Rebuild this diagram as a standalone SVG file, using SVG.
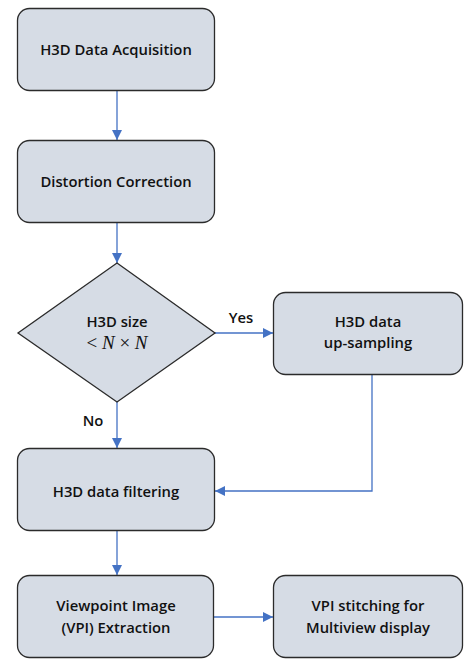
<svg xmlns="http://www.w3.org/2000/svg" width="464" height="659" viewBox="0 0 464 659">
<style>
.box{fill:#D6DCE5;stroke:#2b2b2b;stroke-width:1.3}
.t{font-family:"Open Sans","DejaVu Sans",sans-serif;font-weight:600;font-size:14.8px;fill:#111;text-anchor:middle}
.m{font-family:"Liberation Serif","DejaVu Serif",serif;font-size:19px;fill:#111;text-anchor:middle}
.c{fill:none;stroke:#4472C4;stroke-width:1.3}
</style>
<defs>
<marker id="ah" viewBox="0 0 10 10" refX="10" refY="5" markerWidth="10" markerHeight="10" markerUnits="userSpaceOnUse" orient="auto">
<path d="M0,0 L10,5 L0,10 Z" fill="#4472C4"/>
</marker>
</defs>
<g id="connectors">
<line class="c" x1="117" y1="91" x2="117" y2="140" marker-end="url(#ah)"/>
<line class="c" x1="117" y1="223" x2="117" y2="263" marker-end="url(#ah)"/>
<line class="c" x1="215" y1="333" x2="273" y2="333" marker-end="url(#ah)"/>
<line class="c" x1="117" y1="402" x2="117" y2="448" marker-end="url(#ah)"/>
<polyline class="c" points="372,374 372,491 215,491" marker-end="url(#ah)"/>
<line class="c" x1="117" y1="531" x2="117" y2="575" marker-end="url(#ah)"/>
<line class="c" x1="214" y1="617" x2="273" y2="617" marker-end="url(#ah)"/>
<text class="t" x="241" y="323">Yes</text>
<text class="t" x="93" y="426">No</text>
</g>
<g id="acquisition">
<rect class="box" x="17.5" y="8.5" width="197" height="82" rx="12"/>
<text class="t" x="116" y="55">H3D Data Acquisition</text>
</g>
<g id="distortion">
<rect class="box" x="17.5" y="140.5" width="197" height="82" rx="12"/>
<text class="t" x="116" y="187">Distortion Correction</text>
</g>
<g id="decision">
<polygon class="box" points="117,263 215,333 117,402 18,333"/>
<text class="t" x="117" y="327">H3D size</text>
<text class="m" x="117" y="349">&lt; <tspan font-style="italic">N</tspan> × <tspan font-style="italic">N</tspan></text>
</g>
<g id="upsampling">
<rect class="box" x="273.5" y="292.5" width="189" height="82" rx="12"/>
<text class="t" x="368" y="327">H3D data</text>
<text class="t" x="368" y="348">up-sampling</text>
</g>
<g id="filtering">
<rect class="box" x="17.5" y="448.5" width="197" height="82" rx="12"/>
<text class="t" x="116" y="497">H3D data filtering</text>
</g>
<g id="extraction">
<rect class="box" x="17.5" y="575.5" width="196" height="82" rx="12"/>
<text class="t" x="116" y="611">Viewpoint Image</text>
<text class="t" x="116" y="633">(VPI) Extraction</text>
</g>
<g id="stitching">
<rect class="box" x="273.5" y="575.5" width="189" height="82" rx="12"/>
<text class="t" x="368" y="611">VPI stitching for</text>
<text class="t" x="368" y="633">Multiview display</text>
</g>
</svg>
